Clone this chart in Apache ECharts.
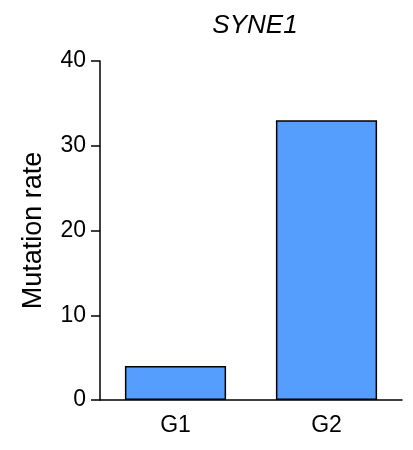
<!DOCTYPE html>
<html><head><meta charset="utf-8">
<script src="https://cdn.jsdelivr.net/npm/echarts@6/dist/echarts.min.js"></script>
<style>html,body{margin:0;padding:0;background:#fff}#c{width:413px;height:450px}</style>
</head><body><div id="c"></div>
<script>
const categories = ['G1', 'G2'];
const mutationRate = [4, 33];
const yTicks = [0, 10, 20, 30, 40];
const titleText = 'SYNE1';
const yName = 'Mutation rate';

const chart = echarts.init(document.getElementById('c'));
const axisCol = '#000';
chart.setOption({
  animation: false,
  title: {
    text: titleText, left: 250, top: 8, textAlign: 'center',
    textStyle: { fontFamily: 'Liberation Sans', fontStyle: 'italic', fontWeight: 'normal', fontSize: 26, color: '#000' }
  },
  grid: { left: 100, right: 11, top: 61, bottom: 50 },
  xAxis: {
    type: 'category', data: categories,
    axisLine: { lineStyle: { color: axisCol, width: 1.5 } },
    axisTick: { length: 8, alignWithLabel: true, lineStyle: { color: axisCol, width: 1.5 } },
    axisLabel: { color: '#000', fontFamily: 'Liberation Sans', fontSize: 23, margin: 14 }
  },
  yAxis: {
    type: 'value', min: yTicks[0], max: yTicks[yTicks.length - 1], interval: 10,
    name: yName, nameLocation: 'middle', nameGap: 53,
    nameTextStyle: { color: '#000', fontFamily: 'Liberation Sans', fontSize: 27 },
    splitLine: { show: false },
    axisLine: { show: true, lineStyle: { color: axisCol, width: 1.5 } },
    axisTick: { show: true, length: 9, lineStyle: { color: axisCol, width: 1.5 } },
    axisLabel: { color: '#000', fontFamily: 'Liberation Sans', fontSize: 23, margin: 14 }
  },
  series: [{
    type: 'bar', data: mutationRate, barWidth: '67%',
    itemStyle: { color: '#559efd', borderColor: '#000', borderWidth: 1.5 }
  }]
});
</script></body></html>
